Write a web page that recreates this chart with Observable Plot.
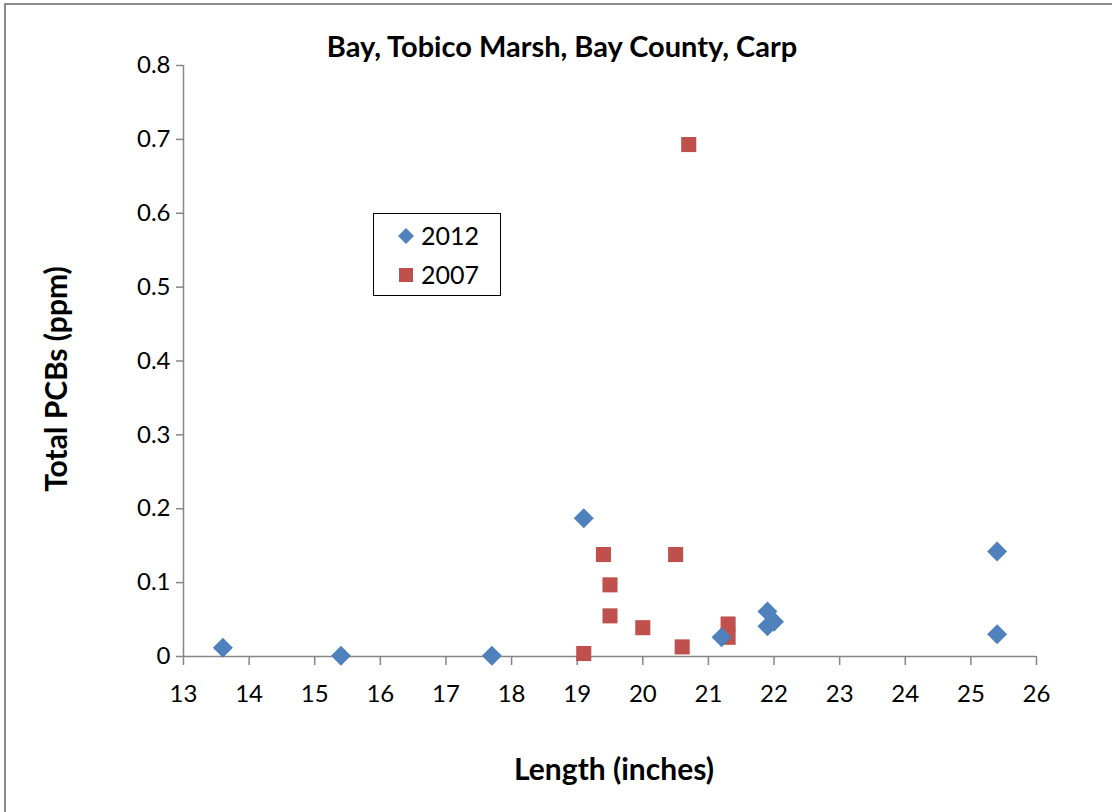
<!DOCTYPE html>
<html>
<head>
<meta charset="utf-8">
<script src="https://cdn.jsdelivr.net/npm/d3@7"></script>
<script src="https://cdn.jsdelivr.net/npm/@observablehq/plot@0.6"></script>
<style>
  html, body { margin: 0; padding: 0; background: #fff; }
  #wrap { position: relative; width: 1112px; height: 812px; overflow: hidden; font-family: Lato, "Open Sans", sans-serif; }
  #border { position: absolute; left: 4px; top: 3px; width: 1200px; height: 900px; border-left: 2px solid #8a8a8a; border-top: 2px solid #8a8a8a; }
  #legend { position: absolute; left: 373px; top: 213px; width: 126px; height: 81px; border: 1.5px solid #000; background: #fff; }
  .li { position: absolute; left: 22px; display: flex; align-items: center; font-size: 25px; color: #000; line-height: 1; }
  .li svg { margin-right: 5px; }
  #chart g[aria-label="x-axis tick label"] text,
  #chart g[aria-label="y-axis tick label"] text { font-size: 24px; font-family: "Liberation Sans Narrow", Lato, sans-serif; }
</style>
</head>
<body>
<div id="wrap">
  <div id="border"></div>
  <div id="chart"></div>
  <div id="legend"></div>
</div>
<script>
const chartTitle = "Bay, Tobico Marsh, Bay County, Carp";
const xLabel = "Length (inches)";
const yLabel = "Total PCBs (ppm)";
const seriesNames = ["2012", "2007"];
const seriesColors = ["#4F81BD", "#C0504D"];

const lengths2012 = [13.6, 15.4, 17.7, 19.1, 21.2, 21.9, 21.9, 22.0, 25.4, 25.4];
const pcbs2012    = [0.012, 0.001, 0.001, 0.187, 0.026, 0.061, 0.041, 0.047, 0.142, 0.030];

const lengths2007 = [19.1, 19.4, 19.5, 19.5, 20.0, 20.5, 20.6, 20.7, 21.3, 21.3];
const pcbs2007    = [0.004, 0.138, 0.097, 0.055, 0.039, 0.138, 0.013, 0.693, 0.044, 0.026];

const xTicks = [13, 14, 15, 16, 17, 18, 19, 20, 21, 22, 23, 24, 25, 26];
const yTicks = [0, 0.1, 0.2, 0.3, 0.4, 0.5, 0.6, 0.7, 0.8];

const rows2012 = lengths2012.map((x, i) => ({x, y: pcbs2012[i]}));
const rows2007 = lengths2007.map((x, i) => ({x, y: pcbs2007[i]}));

const font = "Lato, 'Open Sans', sans-serif";
const axisGray = "#868686";

const plot = Plot.plot({
  width: 1112,
  height: 812,
  marginLeft: 183,
  marginRight: 76,
  marginTop: 65,
  marginBottom: 156,
  style: {fontFamily: font, background: "transparent", overflow: "visible"},
  x: {domain: [13, 26]},
  y: {domain: [0, 0.8]},
  marks: [
    Plot.axisX({ticks: xTicks, tickSize: 9, tickPadding: 19, fontSize: 24, stroke: axisGray, strokeWidth: 1.5, strokeOpacity: 1, color: "#000", label: null, tickFormat: d => String(d)}),
    Plot.axisY({ticks: yTicks, tickSize: 7, tickPadding: 6, fontSize: 24, stroke: axisGray, strokeWidth: 1.5, strokeOpacity: 1, color: "#000", label: null, tickFormat: d => String(+d.toFixed(1))}),
    Plot.ruleY([0], {stroke: axisGray, strokeWidth: 1.5}),
    Plot.ruleX([13], {stroke: axisGray, strokeWidth: 1.5}),
    Plot.dot(rows2007, {x: "x", y: "y", symbol: "square", r: 8.5, fill: seriesColors[1], stroke: "none"}),
    Plot.dot(rows2012, {x: "x", y: "y", symbol: "diamond2", r: 9, fill: seriesColors[0], stroke: "none"}),
    Plot.text([chartTitle], {frameAnchor: "top", lineAnchor: "middle", dy: -18, dx: -48, fontSize: 29, fontWeight: "bold", fill: "#000", fontFamily: font}),
    Plot.text([xLabel], {frameAnchor: "bottom", lineAnchor: "middle", dy: 114, dx: 4, fontSize: 30, fontWeight: "bold", fill: "#000", fontFamily: font}),
    Plot.text([yLabel], {frameAnchor: "left", textAnchor: "middle", lineAnchor: "middle", rotate: -90, dx: -126, dy: 18, fontSize: 30, fontWeight: "bold", fill: "#000", fontFamily: font})
  ]
});
document.getElementById("chart").appendChild(plot);

const legend = document.getElementById("legend");
const symbolsSvg = [
  `<svg width="20" height="20" viewBox="-10 -10 20 20"><path d="M0,-8L8,0L0,8L-8,0Z" fill="${seriesColors[0]}"/></svg>`,
  `<svg width="20" height="20" viewBox="-10 -10 20 20"><rect x="-7" y="-7" width="14" height="14" fill="${seriesColors[1]}"/></svg>`
];
seriesNames.forEach((name, i) => {
  const d = document.createElement("div");
  d.className = "li";
  d.style.top = (i === 0 ? 9 : 48) + "px";
  d.innerHTML = symbolsSvg[i] + `<span>${name}</span>`;
  legend.appendChild(d);
});
</script>
</body>
</html>
